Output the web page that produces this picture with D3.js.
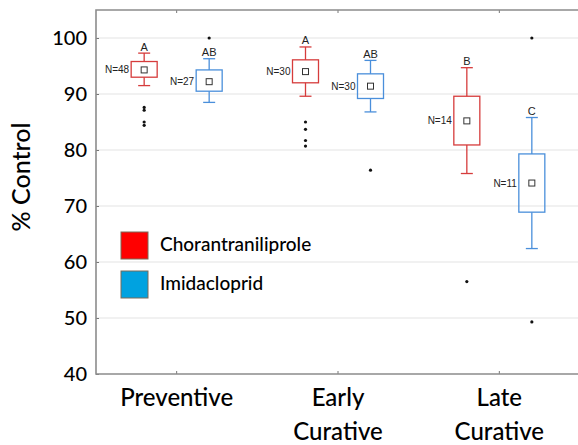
<!DOCTYPE html>
<html>
<head>
<meta charset="utf-8">
<script src="https://cdn.jsdelivr.net/npm/d3@7"></script>
<style>
	body { margin: 0; background: #fff; }
	svg { display: block; }
</style>
</head>
<body>
<div id="viz-container"></div>
<script>
var GROUPS = ['Preventive', 'Early Curative', 'Late Curative'];
var TREATMENTS = ['Chorantraniliprole', 'Imidacloprid'];
var COLORS = ['#d63c3c', '#4a8fdb'];
var LEGEND_FILL = ['#ff0000', '#00a2e0'];

// one row per treatment, one value per group
var whiskerHigh = [[97.3, 98.4, 94.7], [96.3, 96.0, 85.8]];
var boxHigh     = [[95.8, 96.1, 89.6], [94.3, 93.6, 79.3]];
var means       = [[94.3, 94.0, 85.2], [92.2, 91.4, 74.1]];
var boxLow      = [[93.0, 92.0, 80.9], [90.5, 89.2, 68.9]];
var whiskerLow  = [[91.5, 89.6, 75.8], [88.5, 86.8, 62.4]];
var counts      = [[48, 30, 14], [27, 30, 11]];
var letters     = [['A', 'A', 'B'], ['AB', 'AB', 'C']];
var outliers    = [
	[[87.6, 87.1, 85.0, 84.4], [85.0, 83.7, 81.7, 80.7], [56.5]],
	[[100], [76.4], [100, 49.3]]
];
var Y_TICKS = [40, 50, 60, 70, 80, 90, 100];

function init() {
	var svg = d3.select('#viz-container').append('svg')
		.attr('width', 578)
		.attr('height', 445);

	var x = d3.scaleBand()
		.domain(GROUPS)
		.range([96, 580]);

	var dx = d3.scalePoint()
		.domain(TREATMENTS)
		.range([-32.5, 32.5]);

	var y = d3.scaleLinear()
		.domain([40, 105])
		.range([374, 10]);

	var boxW = 26, capW = 12;

	// grid
	svg.append('g').selectAll('line')
		.data(Y_TICKS.slice(1))
		.enter().append('line')
		.attr('x1', 96).attr('x2', 578)
		.attr('y1', function(d) {return y(d);})
		.attr('y2', function(d) {return y(d);})
		.attr('stroke', '#e3e3e3')
		.attr('stroke-width', 1.2);

	// boxes
	var data = [];
	TREATMENTS.forEach(function(t, ti) {
		GROUPS.forEach(function(g, gi) {
			data.push({
				t: t, ti: ti, g: g,
				wh: whiskerHigh[ti][gi], bh: boxHigh[ti][gi], m: means[ti][gi],
				bl: boxLow[ti][gi], wl: whiskerLow[ti][gi],
				n: counts[ti][gi], letter: letters[ti][gi], out: outliers[ti][gi]
			});
		});
	});

	var box = svg.append('g').selectAll('g')
		.data(data)
		.enter().append('g')
		.attr('transform', function(d) {return 'translate(' + (x(d.g) + x.bandwidth() / 2 + dx(d.t)) + ',0)';});

	box.append('line')
		.attr('y1', function(d) {return y(d.wh);})
		.attr('y2', function(d) {return y(d.bh);});
	box.append('line')
		.attr('y1', function(d) {return y(d.bl);})
		.attr('y2', function(d) {return y(d.wl);});
	box.append('line')
		.attr('x1', -capW / 2).attr('x2', capW / 2)
		.attr('y1', function(d) {return y(d.wh);})
		.attr('y2', function(d) {return y(d.wh);});
	box.append('line')
		.attr('x1', -capW / 2).attr('x2', capW / 2)
		.attr('y1', function(d) {return y(d.wl);})
		.attr('y2', function(d) {return y(d.wl);});
	box.selectAll('line')
		.attr('stroke', function(d) {return COLORS[d.ti];})
		.attr('stroke-width', 1.3);

	box.append('rect')
		.attr('x', -boxW / 2)
		.attr('y', function(d) {return y(d.bh);})
		.attr('width', boxW)
		.attr('height', function(d) {return y(d.bl) - y(d.bh);})
		.attr('fill', 'none')
		.attr('stroke', function(d) {return COLORS[d.ti];})
		.attr('stroke-width', 1.3);

	box.append('rect')
		.attr('x', -3)
		.attr('y', function(d) {return y(d.m) - 3;})
		.attr('width', 6).attr('height', 6)
		.attr('fill', '#fff')
		.attr('stroke', '#333')
		.attr('stroke-width', 1);

	box.selectAll('circle')
		.data(function(d) {return d.out;})
		.enter().append('circle')
		.attr('r', 1.6)
		.attr('cy', function(v) {return y(v);})
		.attr('fill', '#111');

	box.append('text')
		.attr('x', -boxW / 2 - 2)
		.attr('y', function(d) {return y(d.m);})
		.attr('dy', '0.35em')
		.style('text-anchor', 'end')
		.style('font', '10px "Liberation Sans", Arial, sans-serif')
		.attr('fill', '#222')
		.text(function(d) {return 'N=' + d.n;});

	box.append('text')
		.attr('y', function(d) {return y(d.wh) - 2.5;})
		.style('text-anchor', 'middle')
		.style('font', '11px "Liberation Sans", Arial, sans-serif')
		.attr('fill', '#222')
		.text(function(d) {return d.letter;});

	// axes
	var yAxis = svg.append('g')
		.attr('transform', 'translate(96,0)')
		.call(d3.axisLeft(y).tickValues(Y_TICKS).tickSize(-3).tickPadding(9));
	yAxis.select('.domain').remove();
	yAxis.selectAll('.tick line').attr('stroke', '#777');
	yAxis.selectAll('text')
		.style('font', '500 20px Lato, sans-serif')
		.attr('fill', '#000');

	var xAxis = svg.append('g')
		.attr('transform', 'translate(0,374)')
		.call(d3.axisBottom(x).tickSize(-3).tickFormat(''));
	xAxis.select('.domain').remove();
	xAxis.selectAll('.tick line').attr('stroke', '#777');

	var topAxis = svg.append('g')
		.attr('transform', 'translate(0,10)')
		.call(d3.axisTop(x).tickSize(-3).tickFormat(''));
	topAxis.select('.domain').remove();
	topAxis.selectAll('.tick line').attr('stroke', '#777');

	// frame
	svg.append('path')
		.attr('d', 'M578,10H96V374H578')
		.attr('fill', 'none')
		.attr('stroke', '#8c8c8c')
		.attr('stroke-width', 1.6);

	svg.append('g').selectAll('text')
		.data(GROUPS)
		.enter().append('text')
		.attr('x', function(d) {return x(d) + x.bandwidth() / 2;})
		.attr('y', 406)
		.style('text-anchor', 'middle')
		.style('font', '500 24px Lato, sans-serif')
		.attr('fill', '#000')
		.each(function(d) {
			var words = d.split(' ');
			var el = d3.select(this);
			words.forEach(function(w, i) {
				el.append('tspan')
					.attr('x', x(d) + x.bandwidth() / 2)
					.attr('dy', i ? 34 : 0)
					.text(w);
			});
		});

	svg.append('text')
		.attr('transform', 'translate(30,177) rotate(-90)')
		.style('text-anchor', 'middle')
		.style('font', '500 25px Lato, sans-serif')
		.attr('fill', '#000')
		.text('% Control');

	// legend
	var legend = svg.append('g').selectAll('g')
		.data(TREATMENTS)
		.enter().append('g')
		.attr('transform', function(d, i) {return 'translate(121,' + (232 + i * 39) + ')';});
	legend.append('rect')
		.attr('width', 27).attr('height', 27)
		.attr('fill', function(d, i) {return LEGEND_FILL[i];})
		.attr('stroke', '#7a6a58')
		.attr('stroke-width', 1);
	legend.append('text')
		.attr('x', 39).attr('y', 12)
		.attr('dy', '0.35em')
		.style('font', '500 19px Lato, sans-serif')
		.attr('fill', '#000')
		.text(function(d) {return d;});
}

init();
</script>
</body>
</html>
